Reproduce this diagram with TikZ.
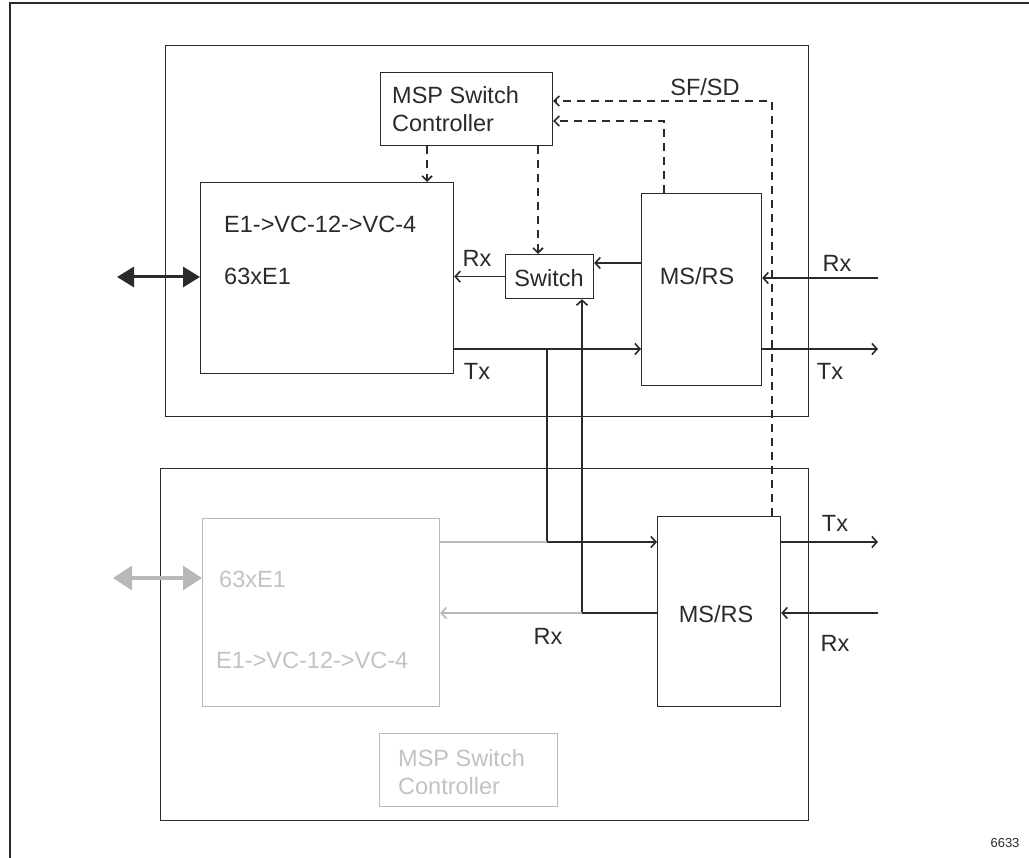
\documentclass[tikz,border=0pt]{standalone}
\usepackage{fontspec}
\setmainfont{Liberation Sans}
\usetikzlibrary{arrows.meta}
\definecolor{ink}{HTML}{2A2A2A}
\definecolor{pale}{HTML}{B8B8B8}
\definecolor{paletext}{HTML}{C2C2C2}
\begin{document}
\begin{tikzpicture}[x=1pt,y=-1pt,
  box/.style={draw=ink, rectangle, inner sep=0pt, line width=1.2pt, anchor=north west},
  gbox/.style={draw=pale, rectangle, inner sep=0pt, line width=1.2pt, anchor=north west},
  lbl/.style={font=\fontsize{23.5}{28}\selectfont, text=ink, inner sep=0pt},
  glbl/.style={font=\fontsize{23.5}{28}\selectfont, text=paletext, inner sep=0pt},
  wire/.style={draw=ink, line width=1.2pt, -{Straight Barb[length=5pt,width=11pt,line width=1.6pt]}},
  gwire/.style={draw=pale, line width=1.2pt},
  dwire/.style={draw=ink, line width=1.2pt, dash pattern=on 8pt off 6pt, -{Straight Barb[length=5pt,width=10pt,line width=1.6pt]}},
  bigio/.style={draw=ink, fill=ink, line width=3pt, {Triangle[length=17pt,width=20pt]}-{Triangle[length=17pt,width=20pt]}},
  gbigio/.style={draw=pale, fill=pale, line width=3pt, {Triangle[length=19pt,width=24pt]}-{Triangle[length=19pt,width=24pt]}}
]
\useasboundingbox (0,0) rectangle (1029,858);
% outer frame (top and left)
\draw[ink, line width=1.5pt] (10,858) -- (10,3) -- (1029,3);

% frames
\node[box, minimum width=643pt, minimum height=371pt] (frameU) at (165,45) {};
\node[box, minimum width=648pt, minimum height=352pt] (frameL) at (160,468) {};

% upper blocks
\node[box, minimum width=172pt, minimum height=73pt] (ctrl) at (380,72) {};
\node[box, minimum width=253pt, minimum height=191pt] (e1) at (200,182) {};
\node[box, minimum width=88pt, minimum height=44pt] (sw) at (505,254) {};
\node[box, minimum width=120pt, minimum height=192pt] (msU) at (641,193) {};

% lower blocks
\node[box, minimum width=123pt, minimum height=190pt] (msL) at (657,516) {};
\node[gbox, minimum width=237pt, minimum height=188pt] (e1L) at (202,518) {};
\node[gbox, minimum width=178pt, minimum height=73pt] (ctrlL) at (379,733) {};

% texts
\node[lbl, anchor=west, align=left] (tctrl) at (392,109) {MSP Switch\\Controller};
\node[lbl, anchor=west] (te1a) at (224,224) {E1->VC-12->VC-4};
\node[lbl, anchor=west] (te1b) at (224,276) {63xE1};
\node[lbl] (tsw) at (549,278) {Switch};
\node[lbl] (tmsU) at (697,276) {MS/RS};
\node[lbl] (tmsL) at (716,614) {MS/RS};
\node[lbl] (tsfsd) at (705,87) {SF/SD};
\node[lbl] (trx1) at (477,258) {Rx};
\node[lbl] (ttx1) at (477,371) {Tx};
\node[lbl] (trx2) at (837,263) {Rx};
\node[lbl] (ttx2) at (830,371) {Tx};
\node[lbl] (ttx3) at (835,523) {Tx};
\node[lbl] (trx3) at (835,643) {Rx};
\node[lbl] (trx4) at (548,636) {Rx};
\node[glbl, anchor=west] (tg1) at (219,579) {63xE1};
\node[glbl, anchor=west] (tg2) at (216,660) {E1->VC-12->VC-4};
\node[glbl, anchor=west, align=left] (tg3) at (398,772) {MSP Switch\\Controller};
\node[font=\fontsize{13}{15}\selectfont, text=ink, inner sep=0pt] (tnum) at (1005,843) {6633};

% coordinates
\coordinate (ioU) at (117,277);
\coordinate (ioL) at (113,578);
\coordinate (rxU) at (878,278);
\coordinate (txU) at (878,349);
\coordinate (brA) at (547,349);
\coordinate (jA) at (547,542);
\coordinate (jB) at (582,613);
\coordinate (txL) at (878,542);
\coordinate (rxL) at (878,613);
\coordinate (swin) at (0,263);
\coordinate (c1) at (427,0);
\coordinate (c2) at (538,0);
\coordinate (sfA) at (772,101);
\coordinate (sfB) at (664,121);

% upper connectors
\draw[bigio] (ioU) -- (e1.west |- ioU);
\draw[wire] (sw.west) -- (e1.east |- sw.west);
\draw[wire] (msU.west |- swin) -- (sw.east |- swin);
\draw[wire] (rxU) -- (msU.east |- rxU);
\draw[wire] (msU.east |- txU) -- (txU);
\draw[wire] (e1.east |- txU) -- (msU.west |- txU);
\draw[wire] (brA) -- (jA) -- (msL.west |- jA);
\draw[wire] (msL.west |- jB) -- (jB) -- (sw.south -| jB);

% lower connectors
\draw[gwire] (e1L.east |- jA) -- (jA);
\draw[gwire, -{Straight Barb[length=5pt,width=11pt,line width=1.6pt]}] (jB) -- (e1L.east |- jB);
\draw[gbigio] (ioL) -- (e1L.west |- ioL);
\draw[wire] (msL.east |- txL) -- (txL);
\draw[wire] (rxL) -- (msL.east |- rxL);

% dashed control lines
\draw[dwire] (ctrl.south -| c1) -- (e1.north -| c1);
\draw[dwire] (ctrl.south -| c2) -- (sw.north -| c2);
\draw[dwire] (msL.north -| sfA) -- (sfA) -- (ctrl.east |- sfA);
\draw[dwire] (msU.north -| sfB) -- (sfB) -- (ctrl.east |- sfB);
\end{tikzpicture}
\end{document}
